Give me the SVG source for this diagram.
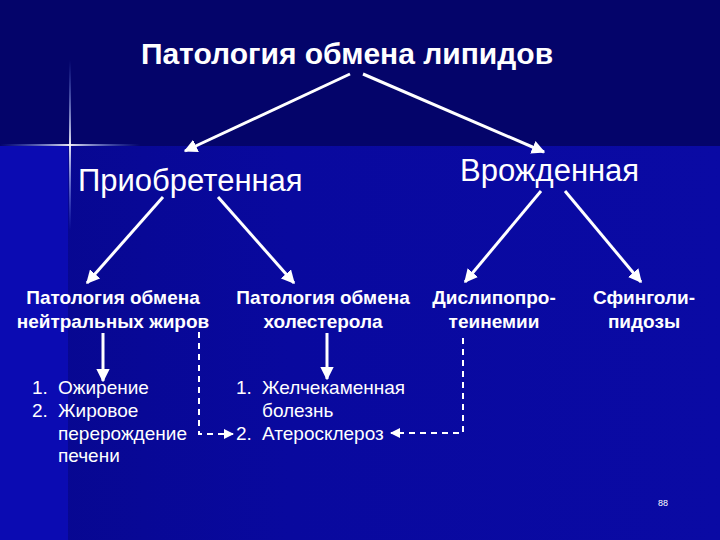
<svg xmlns="http://www.w3.org/2000/svg" width="720" height="540" viewBox="0 0 720 540">
<defs>
<linearGradient id="bg" x1="0" y1="0" x2="1" y2="0">
<stop offset="0" stop-color="#07078e"/>
<stop offset="0.4" stop-color="#09099e"/>
<stop offset="1" stop-color="#0a0aa4"/>
</linearGradient>
<linearGradient id="hl" x1="0" y1="0" x2="1" y2="0">
<stop offset="0" stop-color="#6a8cff" stop-opacity="0"/>
<stop offset="0.5" stop-color="#ffffff" stop-opacity="0.9"/>
<stop offset="1" stop-color="#6a8cff" stop-opacity="0"/>
</linearGradient>
<linearGradient id="vl" x1="0" y1="0" x2="0" y2="1">
<stop offset="0" stop-color="#6a8cff" stop-opacity="0"/>
<stop offset="0.5" stop-color="#ffffff" stop-opacity="0.9"/>
<stop offset="1" stop-color="#6a8cff" stop-opacity="0"/>
</linearGradient>
<marker id="ah" viewBox="0 0 10 10" refX="9" refY="5" markerWidth="4.5" markerHeight="4.5" orient="auto" markerUnits="strokeWidth">
<path d="M0,0 L10,5 L0,10 z" fill="#ffffff"/>
</marker>
<marker id="ahs" viewBox="0 0 10 10" refX="9" refY="5" markerWidth="5" markerHeight="5" orient="auto" markerUnits="strokeWidth">
<path d="M0,0 L10,5 L0,10 z" fill="#ffffff"/>
</marker>
</defs>
<style>
text{font-family:"Liberation Sans",Arial,sans-serif;fill:#ffffff}
.t{font-size:30px;font-weight:bold}
.h{font-size:31px}
.n{font-size:19px;font-weight:bold;text-anchor:middle}
.l{font-size:19px}
.c line,.c path{stroke:#ffffff;fill:none}
.s{stroke-width:3;marker-end:url(#ah)}
.d{stroke-width:2;stroke-dasharray:6,5;marker-end:url(#ahs)}
</style>
<rect x="0" y="0" width="720" height="540" fill="url(#bg)"/>
<rect x="0" y="145" width="68" height="395" fill="#0b0bb2"/>
<rect x="0" y="0" width="720" height="146" fill="#04046a"/>
<rect x="0" y="144" width="140" height="2" fill="url(#hl)"/>
<rect x="69" y="60" width="2" height="170" fill="url(#vl)"/>

<g id="title"><text class="t" x="347" y="64" text-anchor="middle">Патология обмена липидов</text></g>
<g id="acquired"><text class="h" x="78" y="191">Приобретенная</text></g>
<g id="congenital"><text class="h" x="460" y="181">Врожденная</text></g>
<g id="neutral"><text class="n" x="113" y="304">Патология обмена</text><text class="n" x="113" y="328">нейтральных жиров</text></g>
<g id="cholesterol"><text class="n" x="323" y="304">Патология обмена</text><text class="n" x="323" y="328">холестерола</text></g>
<g id="dyslipo"><text class="n" x="494" y="304">Дислипопро-</text><text class="n" x="494" y="328">теинемии</text></g>
<g id="sphingo"><text class="n" x="644" y="304">Сфинголи-</text><text class="n" x="644" y="328">пидозы</text></g>
<g id="list1">
<text class="l" x="32" y="394">1.</text><text class="l" x="58" y="394">Ожирение</text>
<text class="l" x="32" y="417">2.</text><text class="l" x="58" y="417">Жировое</text>
<text class="l" x="58" y="440">перерождение</text>
<text class="l" x="58" y="462">печени</text>
</g>
<g id="list2">
<text class="l" x="236" y="394">1.</text><text class="l" x="262" y="394">Желчекаменная</text>
<text class="l" x="262" y="417">болезнь</text>
<text class="l" x="236" y="440">2.</text><text class="l" x="262" y="440">Атеросклероз</text>
</g>
<g id="page"><text x="663" y="506" font-size="9" text-anchor="middle">88</text></g>

<g class="c" id="connectors">
<line class="s" x1="350" y1="74" x2="185" y2="151"/>
<line class="s" x1="363" y1="74" x2="544" y2="152"/>
<line class="s" x1="163" y1="197" x2="87" y2="283"/>
<line class="s" x1="218" y1="197" x2="294" y2="283"/>
<line class="s" x1="541" y1="191" x2="465" y2="282"/>
<line class="s" x1="565" y1="191" x2="641" y2="282"/>
<line class="s" x1="103" y1="333" x2="103" y2="381"/>
<line class="s" x1="327" y1="333" x2="327" y2="379"/>
<path class="d" d="M199,332 V434 H233"/>
<path class="d" d="M463,338 V433 H391"/>
</g>
</svg>
